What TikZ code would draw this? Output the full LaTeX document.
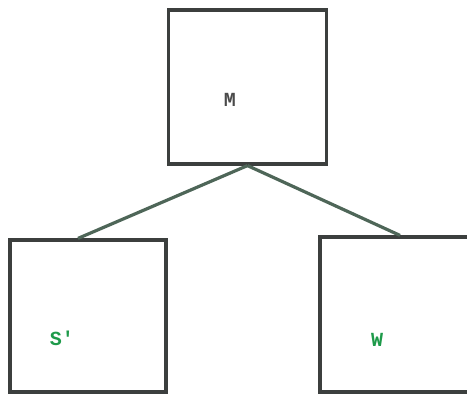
\documentclass[tikz,border=0pt]{standalone}
\usepackage{fontspec}
\setmonofont{Liberation Mono}
\definecolor{boxgray}{HTML}{3C3F3E}
\definecolor{linkgray}{HTML}{4E6658}
\definecolor{labelgreen}{HTML}{1E9A4A}
\definecolor{labelgray}{HTML}{4A4A4A}
\tikzset{
  unitbox/.style={draw=boxgray, line width=3.2pt, rectangle, inner sep=0pt},
  link/.style={draw=linkgray, line width=3.2pt},
  lbl/.style={font=\ttfamily\bfseries\fontsize{20}{23}\selectfont},
}
\begin{document}
\begin{tikzpicture}[x=1pt,y=-1pt]
\useasboundingbox (0,0) rectangle (467,394);
\clip (0,0) rectangle (467,394);
% boxes
\node[unitbox, minimum width=158pt, minimum height=154pt] (mbox) at (247.5,87) {};
\node[unitbox, minimum width=156pt, minimum height=152pt] (sbox) at (88,316) {};
\node[unitbox, minimum width=156pt, minimum height=155pt] (wbox) at (398,314.5) {};
% labels
\node[lbl, text=labelgray] (mlab) at (230,100) {M};
\node[lbl, text=labelgreen] (slab) at (62,338) {S'};
\node[lbl, text=labelgreen] (wlab) at (377,340) {W};
% joining points on the lower boxes
\coordinate (sjoin) at ([xshift=-10pt]sbox.north);
\coordinate (wjoin) at ([xshift=2pt]wbox.north);
\draw[link] (mbox.south) -- (sjoin);
\draw[link] (mbox.south) -- (wjoin);
\end{tikzpicture}
\end{document}
